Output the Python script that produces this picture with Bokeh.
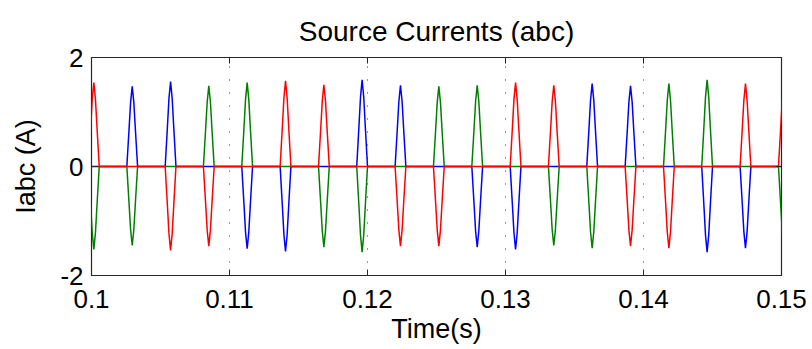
from bokeh.plotting import figure
from bokeh.models import Range1d, FixedTicker, LinearAxis
from bokeh.embed import file_html
from bokeh.resources import INLINE

# ---- data ----
x_ticks = [0.1, 0.11, 0.12, 0.13, 0.14, 0.15]
x_labels = ["0.1", "0.11", "0.12", "0.13", "0.14", "0.15"]
y_ticks = [-2, 0, 2]
y_labels = ["-2", "0", "2"]

# instants of the current pulses (s)
pulse_t = [0.10017, 0.10295, 0.10573, 0.10850, 0.11128, 0.11406, 0.11684,
           0.11961, 0.12239, 0.12517, 0.12795, 0.13073, 0.13350, 0.13628,
           0.13906, 0.14184, 0.14461, 0.14739, 0.15017]
# peak current of each phase at each pulse (A)
blue_peak = [0, 1.47, 1.56, 0, -1.51, -1.56, 0, 1.59, 1.49, 0, -1.48, -1.52,
             0, 1.52, 1.48, 0, -1.57, -1.50, 0]
green_peak = [-1.52, -1.45, 0, 1.48, 1.54, 0, -1.48, -1.57, 0, 1.47, 1.49, 0,
              -1.45, -1.50, 0, 1.52, 1.59, 0, -1.50]
red_peak = [1.54, 0, -1.54, -1.46, 0, 1.57, 1.50, 0, -1.46, -1.46, 0, 1.54,
            1.49, 0, -1.46, -1.50, 0, 1.52, 1.52]

# pulse outline (shape template)
HALF_WIDTH = 0.00039
SHAPE_OFF = [-1.0, -0.6, -0.3, 0.0, 0.3, 0.6, 1.0]
SHAPE_FRAC = [0.0, 0.45, 0.8, 1.0, 0.8, 0.45, 0.0]
T_START, T_END = 0.099, 0.151


def build(peaks):
    xs, ys = [T_START], [0.0]
    for t, a in zip(pulse_t, peaks):
        if a == 0:
            continue
        for o, f in zip(SHAPE_OFF, SHAPE_FRAC):
            xs.append(t + o * HALF_WIDTH)
            ys.append(a * f)
    xs.append(T_END)
    ys.append(0.0)
    return xs, ys


FONT = "Liberation Sans"
FRAME = "#262626"

p = figure(width=812, height=349, output_backend="svg", toolbar_location=None,
           x_range=Range1d(0.1, 0.15), y_range=Range1d(-2, 2),
           min_border_left=91, min_border_right=31, min_border_top=57,
           min_border_bottom=74, background_fill_color="white",
           border_fill_color="white")

p.title.text = "Source Currents (abc)"
p.title.align = "center"
p.title.text_font = FONT
p.title.text_font_size = "28px"
p.title.text_font_style = "normal"
p.title.text_color = "black"
p.title.standoff = 22

for xs_ys, col in ((build(blue_peak), "#0000ff"),
                   (build(green_peak), "#008000"),
                   (build(red_peak), "#ff0000")):
    p.line(xs_ys[0], xs_ys[1], line_color=col, line_width=1.5)

p.outline_line_color = FRAME
p.outline_line_width = 1.2

xa = p.xaxis[0]
xa.ticker = FixedTicker(ticks=x_ticks)
xa.major_label_overrides = dict(zip(x_ticks, x_labels))
xa.axis_label = "Time(s)"
ya = p.yaxis[0]
ya.ticker = FixedTicker(ticks=y_ticks)
ya.major_label_overrides = dict(zip(y_ticks, y_labels))
ya.axis_label = "Iabc (A)"

for ax in (xa, ya):
    ax.axis_line_color = None
    ax.major_tick_in = 6
    ax.major_tick_out = 0
    ax.major_tick_line_color = FRAME
    ax.minor_tick_line_color = None
    ax.major_label_text_font = FONT
    ax.major_label_text_font_size = "26px"
    ax.major_label_text_color = "black"
    ax.axis_label_text_font = FONT
    ax.axis_label_text_font_size = "27px"
    ax.axis_label_text_font_style = "normal"
    ax.axis_label_text_color = "black"
xa.major_label_standoff = 14
xa.axis_label_standoff = 3
ya.major_label_standoff = 8
ya.axis_label_standoff = 16

# mirrored tick marks on top and right
top = LinearAxis(ticker=FixedTicker(ticks=x_ticks),
                 major_label_overrides={t: "" for t in x_ticks})
right = LinearAxis(ticker=FixedTicker(ticks=y_ticks),
                   major_label_overrides={t: "" for t in y_ticks})
for ax in (top, right):
    ax.axis_line_color = None
    ax.major_tick_in = 6
    ax.major_tick_out = 0
    ax.major_tick_line_color = FRAME
    ax.minor_tick_line_color = None
    ax.major_label_text_font_size = "1px"
    ax.major_label_standoff = 0
p.add_layout(top, "above")
p.add_layout(right, "right")

p.xgrid.ticker = FixedTicker(ticks=x_ticks)
p.ygrid.ticker = FixedTicker(ticks=y_ticks)
for g in (p.xgrid, p.ygrid):
    g.grid_line_color = "#303030"
    g.grid_line_dash = "1 12"
    g.grid_line_width = 1

open("out.html", "w").write(file_html(p, INLINE))
